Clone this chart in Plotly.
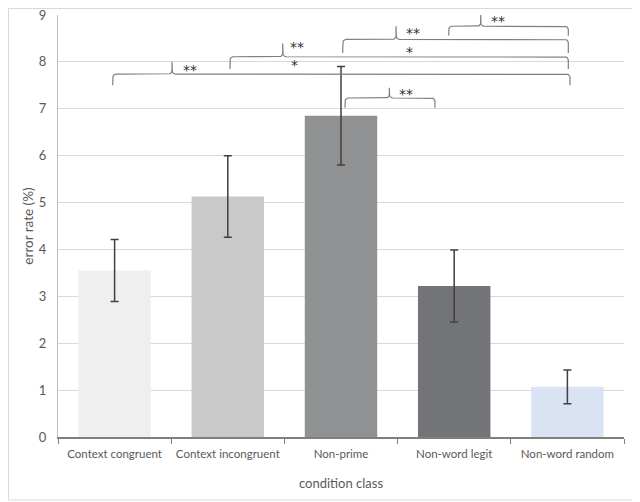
import numpy as np
import plotly.graph_objects as go

# bar data
conditions = ["Context congruent", "Context incongruent", "Non-prime",
              "Non-word legit", "Non-word random"]
error_rate = [3.55, 5.13, 6.85, 3.22, 1.07]
error_sd = [0.66, 0.87, 1.05, 0.77, 0.36]
bar_colors = ["#efefef", "#c9c9ca", "#909193", "#737477", "#dae3f3"]

# significance braces: left end, right end, peak x, line y, end y, peak y
brace_x0 = [-0.017, 1.019, 2.015, 2.951, 2.035]
brace_x1 = [4.023, 4.008, 4.008, 4.008, 2.830]
brace_xp = [0.507, 1.485, 2.486, 3.234, 2.427]
brace_yl = [7.74, 8.11, 8.48, 8.76, 7.23]
brace_ye = [7.50, 7.85, 8.19, 8.56, 7.02]
brace_yt = [8.00, 8.39, 8.76, 9.01, 7.45]

# star labels
star_text = ["**", "*", "**", "*", "**", "**", "**"]
star_x = [0.666, 1.585, 1.614, 2.603, 2.639, 3.390, 2.574]
star_y = [7.875, 7.97, 8.35, 8.25, 8.65, 8.91, 7.36]

# pixel size of one data unit (for rounded corners)
ux, uy = 113.2, 46.87
r = 3.5
rx, ry = r / ux, r / uy


def arc(cx, cy, a0, a1, n=8):
    t = np.linspace(np.radians(a0), np.radians(a1), n)
    return list(cx + rx * np.cos(t)), list(cy + ry * np.sin(t))


def brace(x0, x1, xp, yl, ye, yt):
    xs, ys = [x0], [ye]
    for cx, cy, a0, a1 in [(x0 + rx, yl - ry, 180, 90),
                           (xp - rx, yl + ry, -90, 0)]:
        ax_, ay_ = arc(cx, cy, a0, a1)
        xs += ax_
        ys += ay_
    xs += [xp, xp]
    ys += [yt, yl + ry]
    for cx, cy, a0, a1 in [(xp + rx, yl + ry, 180, 270),
                           (x1 - rx, yl - ry, 90, 0)]:
        ax_, ay_ = arc(cx, cy, a0, a1)
        xs += ax_
        ys += ay_
    xs.append(x1)
    ys.append(ye)
    return xs, ys


fig = go.Figure()
fig.add_trace(go.Bar(
    x=conditions, y=error_rate,
    marker=dict(color=bar_colors, line=dict(width=0)),
    error_y=dict(type="data", array=error_sd, color="#404040",
                 thickness=1.5, width=4),
    showlegend=False,
))

for i in range(len(brace_x0)):
    bx, by = brace(brace_x0[i], brace_x1[i], brace_xp[i],
                   brace_yl[i], brace_ye[i], brace_yt[i])
    fig.add_trace(go.Scatter(
        x=bx, y=by, xaxis="x2", mode="lines",
        line=dict(color="#7f7f7f", width=1.2),
        cliponaxis=False, showlegend=False, hoverinfo="skip",
    ))

for t, sx, sy in zip(star_text, star_x, star_y):
    fig.add_annotation(x=sx, y=sy, xref="x2", yref="y", text=t,
                       showarrow=False, yshift=-2,
                       font=dict(size=14, color="#303030",
                                 family="DejaVu Sans"))

# outer chart border (page is offset 8px by the body margin)
fig.add_shape(type="rect", xref="paper", yref="paper",
              x0=-49.5 / 566, x1=578 / 566, y0=-63 / 422, y1=428.5 / 422,
              line=dict(color="#d9d9d9", width=1), layer="below")

fig.update_layout(
    width=632, height=494,
    margin=dict(l=50, r=16, t=7, b=65),
    paper_bgcolor="white", plot_bgcolor="white",
    font=dict(family="Lato", size=12, color="#595959"),
    bargap=0.36,
    xaxis=dict(
        type="category", range=[-0.5, 4.5], tickangle=0, automargin=False,
        showline=True, linecolor="#7f7f7f", linewidth=1.5,
        ticks="outside", tickson="boundaries", ticklen=5,
        tickcolor="#7f7f7f", showgrid=False,
        tickfont=dict(size=11.5), ticklabelstandoff=5,
        title=dict(text="condition class", standoff=20,
                   font=dict(size=13, color="#595959")),
    ),
    xaxis2=dict(overlaying="x", range=[-0.5, 4.5], visible=False,
                showgrid=False, zeroline=False),
    yaxis=dict(
        range=[0, 9], dtick=1, automargin=False,
        showline=True, linecolor="#bfbfbf", linewidth=1,
        gridcolor="#d9d9d9", gridwidth=1, zeroline=False,
        ticks="", ticklabelstandoff=8, ticklabeloverflow="allow",
        tickfont=dict(size=13),
        title=dict(text="error rate (%)", standoff=2,
                   font=dict(size=13.5, color="#595959")),
    ),
)

fig.write_html("out.html")
